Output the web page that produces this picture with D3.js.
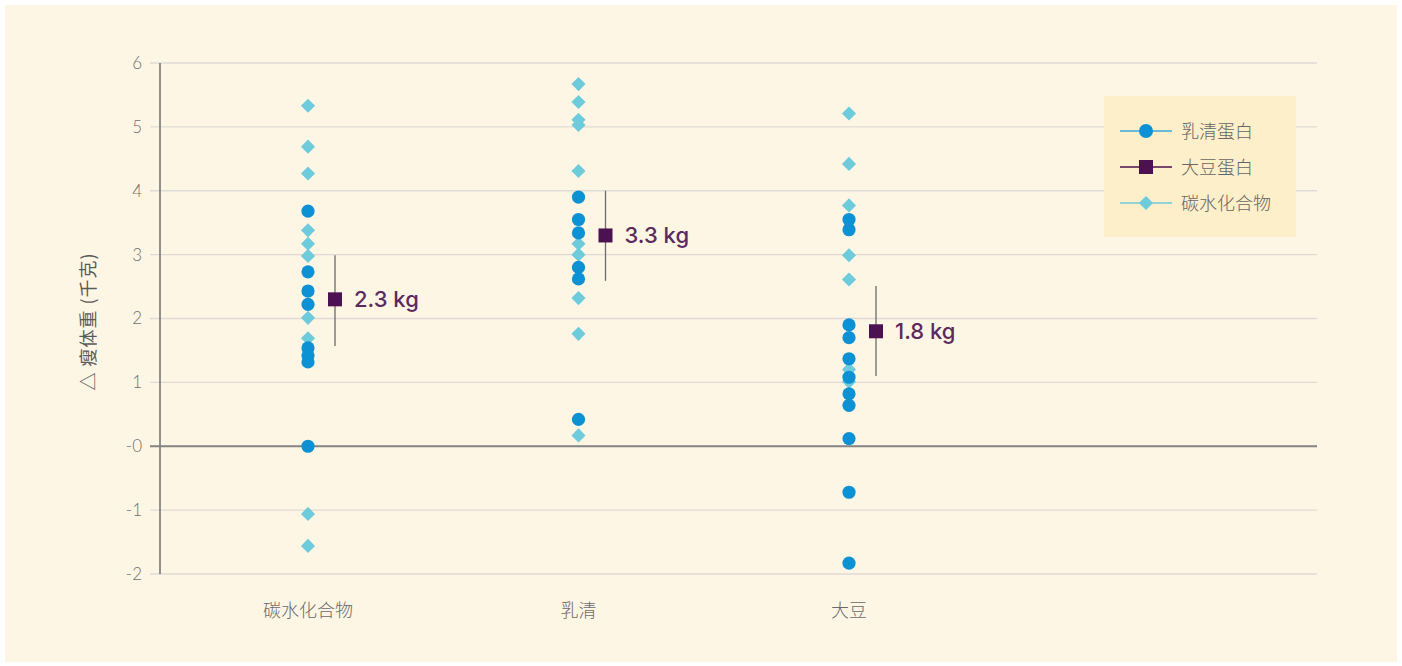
<!DOCTYPE html>
<html>
<head>
<meta charset="utf-8">
<script src="https://cdn.jsdelivr.net/npm/d3@7/dist/d3.min.js"></script>
<style>
  html, body { margin: 0; padding: 0; background: #ffffff; }
  svg { display: block; }
  text { font-family: "Noto Sans CJK SC", "Noto Sans", sans-serif; }
</style>
</head>
<body>
<svg id="chart" width="1402" height="666"></svg>
<script>
// Groups along the x axis
const categories = ["碳水化合物", "乳清", "大豆"];

// Individual changes in lean body mass (kg) per group
const wheyPoints = [
  [3.68, 2.73, 2.43, 2.22, 1.54, 1.42, 1.32, 0.0],
  [3.90, 3.55, 3.34, 2.80, 2.62, 0.42],
  [3.55, 3.39, 1.90, 1.70, 1.37, 1.08, 0.82, 0.64, 0.12, -0.72, -1.83]
];
const carbPoints = [
  [5.33, 4.69, 4.27, 3.38, 3.17, 2.98, 2.01, 1.69, -1.06, -1.56],
  [5.67, 5.39, 5.11, 5.03, 4.31, 3.17, 3.00, 2.32, 1.76, 0.17],
  [5.21, 4.42, 3.77, 2.99, 2.61, 1.20, 1.01]
];
// Group means with their interval
const meanValues = [2.3, 3.3, 1.8];
const meanLow = [1.57, 2.59, 1.10];
const meanHigh = [2.99, 4.0, 2.51];
const meanLabels = ["2.3 kg", "3.3 kg", "1.8 kg"];

const yTicks = [-2, -1, 0, 1, 2, 3, 4, 5, 6];
const yTickLabels = ["-2", "-1", "-0", "1", "2", "3", "4", "5", "6"];

const legendNames = ["乳清蛋白", "大豆蛋白", "碳水化合物"];
const yTitle = "△ 瘦体重 (千克)";

const colors = { whey: "#0c92d4", soy: "#4b1150", carb: "#6dcbdc", label: "#5b2b60" };

const svg = d3.select("#chart");
const W = 1402, H = 666;

// panel
svg.append("rect").attr("x", 5).attr("y", 5).attr("width", W - 10).attr("height", H - 9)
  .attr("fill", "#fef6e5");

const plot = { left: 160, right: 1317, top: 63, bottom: 574 };

const y = d3.scaleLinear().domain([-2, 6]).range([plot.bottom, plot.top]);
const x = d3.scalePoint().domain(categories)
  .range([plot.left + 148, plot.left + 689]);
const meanOffset = 27;

// gridlines
svg.append("g").selectAll("line").data(yTicks).join("line")
  .attr("x1", plot.left - 10).attr("x2", plot.right)
  .attr("y1", d => y(d)).attr("y2", d => y(d))
  .attr("stroke", "#dedbd6").attr("stroke-width", 1.3);

// y axis
const yAxis = d3.axisLeft(y).tickValues(yTicks).tickSize(0).tickPadding(18)
  .tickFormat((d, i) => yTickLabels[i]);
const gy = svg.append("g").attr("transform", `translate(${plot.left},0)`).call(yAxis);
gy.select(".domain").remove();
gy.selectAll("text").attr("font-size", 17).attr("fill", "#707070")
  .style("font-family", "'Lato', 'Noto Sans', sans-serif").attr("font-weight", 300);

svg.append("line").attr("x1", plot.left).attr("x2", plot.left)
  .attr("y1", y(6)).attr("y2", y(-2)).attr("stroke", "#6e6e6e").attr("stroke-width", 1.5);

// zero line
svg.append("line").attr("x1", plot.left - 10).attr("x2", plot.right)
  .attr("y1", y(0)).attr("y2", y(0)).attr("stroke", "#858585").attr("stroke-width", 2);

// y title
svg.append("text")
  .attr("transform", `translate(95,${(plot.top + plot.bottom) / 2 + 3}) rotate(-90)`)
  .attr("text-anchor", "middle").attr("font-size", 18).attr("fill", "#5a5a5a")
  .attr("letter-spacing", 1)
  .text(yTitle);

// x labels
svg.append("g").selectAll("text").data(categories).join("text")
  .attr("x", d => x(d)).attr("y", 617).attr("text-anchor", "middle")
  .attr("font-size", 18).attr("fill", "#6a6a6a").attr("font-weight", 300).text(d => d);

const diamond = d3.symbol().type(d3.symbolSquare).size(100);

// carbohydrate points (diamonds)
categories.forEach((c, i) => {
  svg.append("g").selectAll("path").data(carbPoints[i]).join("path")
    .attr("d", diamond)
    .attr("transform", d => `translate(${x(c)},${y(d)}) rotate(45)`)
    .attr("fill", colors.carb);
});

// whey points (circles)
categories.forEach((c, i) => {
  svg.append("g").selectAll("circle").data(wheyPoints[i]).join("circle")
    .attr("cx", x(c)).attr("cy", d => y(d)).attr("r", 6.6)
    .attr("fill", colors.whey);
});

// means with intervals
categories.forEach((c, i) => {
  const cx = x(c) + meanOffset;
  svg.append("line").attr("x1", cx).attr("x2", cx)
    .attr("y1", y(meanHigh[i])).attr("y2", y(meanLow[i]))
    .attr("stroke", "#6a6a6a").attr("stroke-width", 1.3);
  svg.append("rect").attr("x", cx - 7).attr("y", y(meanValues[i]) - 7)
    .attr("width", 14).attr("height", 14).attr("fill", colors.soy);
  svg.append("text").attr("x", cx + 19).attr("y", y(meanValues[i]) + 8)
    .style("font-family", "'Inter', 'Noto Sans', sans-serif")
    .attr("font-size", 22).attr("font-weight", 500).attr("fill", colors.label)
    .text(meanLabels[i]);
});

// legend
const lg = svg.append("g").attr("transform", "translate(1104,96)");
lg.append("rect").attr("width", 192).attr("height", 141).attr("fill", "#fdefc9");
const lgColors = [colors.whey, colors.soy, colors.carb];
legendNames.forEach((name, i) => {
  const g = lg.append("g").attr("transform", `translate(0,${35 + i * 36})`);
  g.append("line").attr("x1", 16).attr("x2", 68).attr("stroke", lgColors[i] === colors.whey ? "#3aa6dc" : lgColors[i]).attr("stroke-width", 1.3);
  if (i === 0) g.append("circle").attr("cx", 42).attr("r", 7).attr("fill", colors.whey);
  if (i === 1) g.append("rect").attr("x", 35).attr("y", -7).attr("width", 14).attr("height", 14).attr("fill", colors.soy);
  if (i === 2) g.append("path").attr("d", diamond).attr("transform", "translate(42,0) rotate(45)").attr("fill", colors.carb);
  g.append("text").attr("x", 77).attr("y", 7).attr("font-size", 18).attr("fill", "#666").attr("font-weight", 300).text(name);
});
</script>
</body>
</html>
